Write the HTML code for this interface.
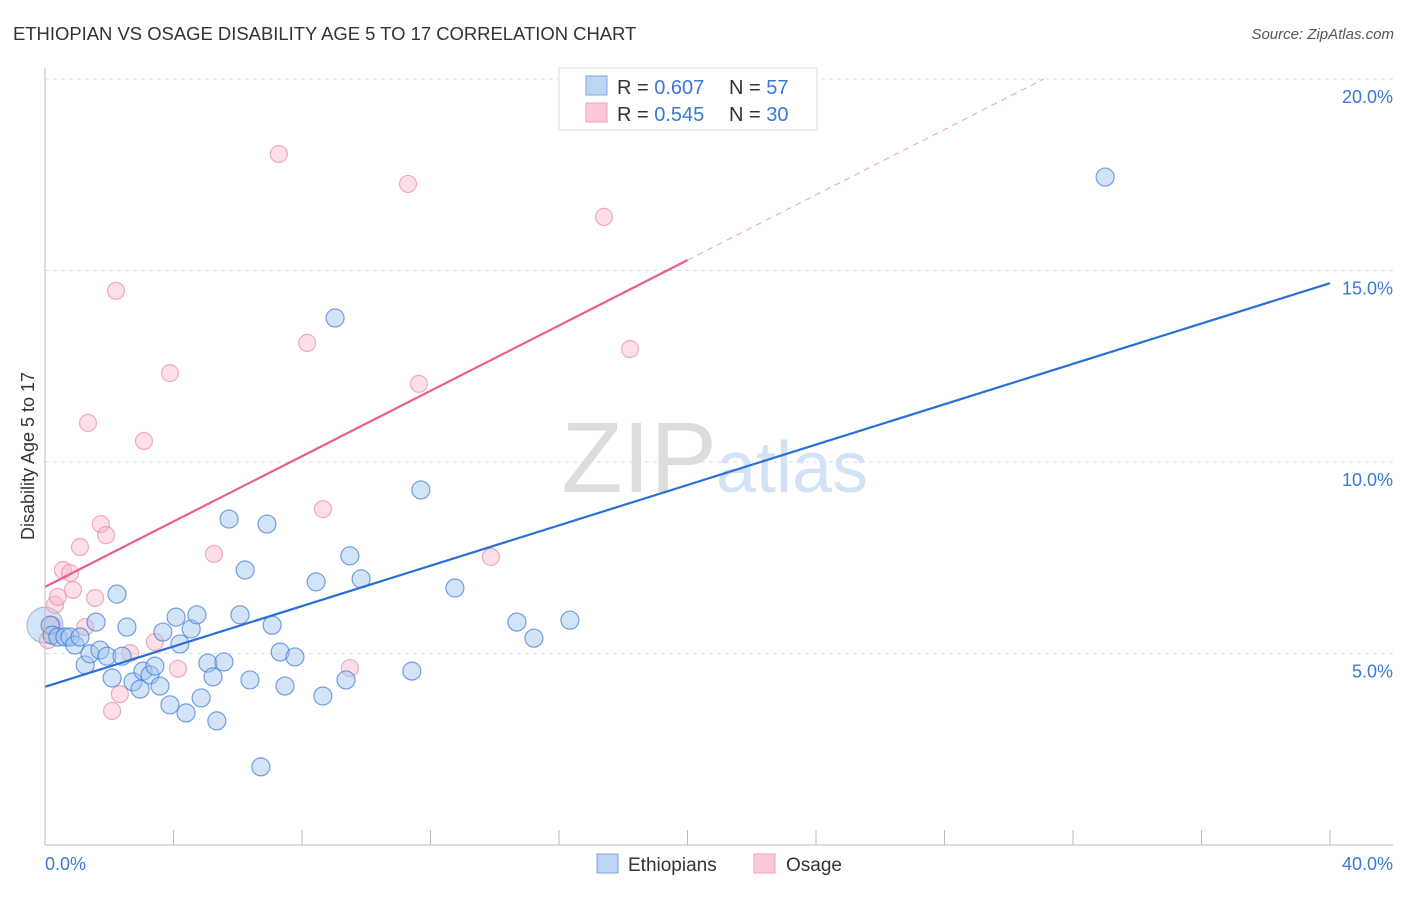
<!DOCTYPE html>
<html><head><meta charset="utf-8"><style>
body{margin:0;background:#fff;font-family:"Liberation Sans",sans-serif;}
svg text{font-family:"Liberation Sans",sans-serif;}
</style></head><body>
<svg id="chart" width="1406" height="892">
<text x="13" y="40" font-size="18.45" fill="#333">ETHIOPIAN VS OSAGE DISABILITY AGE 5 TO 17 CORRELATION CHART</text>
<text x="1394" y="39" font-size="15" fill="#555" text-anchor="end" font-style="italic">Source: ZipAtlas.com</text>
<g id="grid"></g>
<text x="717" y="492" font-size="100" fill="#ddd" text-anchor="end" font-family="Liberation Serif,serif">ZIP</text>
<text x="716" y="492" font-size="72" fill="#d3e3f5">atlas</text>
<g id="marks"></g>
<line x1="45" y1="68" x2="45" y2="845" stroke="#bbb"/>
<line x1="45" y1="845" x2="1393" y2="845" stroke="#bbb"/>
<g id="ticks"></g>
<text x="45" y="870" font-size="18" fill="#3a78d8">0.0%</text>
<text x="1393" y="870" font-size="18" fill="#3a78d8" text-anchor="end">40.0%</text>
<text transform="translate(34,456) rotate(-90)" font-size="18" fill="#333" text-anchor="middle">Disability Age 5 to 17</text>
<g>
<rect x="559" y="68" width="258" height="62" fill="#fff" stroke="#ddd"/>
<rect x="586" y="76" width="21" height="19" fill="#bcd5f5" stroke="#7aa8e6"/>
<rect x="586" y="103" width="21" height="19" fill="#fbc9d7" stroke="#f0a0b8"/>
<text x="617" y="94" font-size="20" fill="#333">R = <tspan fill="#3a78d8">0.607</tspan></text>
<text x="729" y="94" font-size="20" fill="#333">N = <tspan fill="#3a78d8"> 57</tspan></text>
<text x="617" y="121" font-size="20" fill="#333">R = <tspan fill="#3a78d8">0.545</tspan></text>
<text x="729" y="121" font-size="20" fill="#333">N = <tspan fill="#3a78d8">30</tspan></text>
</g>
<g>
<rect x="597" y="854" width="21" height="19" fill="#bcd5f5" stroke="#7aa8e6"/>
<text x="628" y="871" font-size="19" fill="#333">Ethiopians</text>
<rect x="754" y="854" width="21" height="19" fill="#fbc9d7" stroke="#f0a0b8"/>
<text x="786" y="871" font-size="19" fill="#333">Osage</text>
</g>
</svg>
<script>
const blueX=[0.16,0.22,0.40,0.62,0.78,0.93,1.09,1.25,1.40,1.59,1.71,1.93,2.09,2.24,2.40,2.55,2.74,2.96,3.05,3.27,3.42,3.58,3.67,3.89,4.08,4.20,4.39,4.55,4.73,4.86,5.07,5.23,5.35,5.57,5.73,6.07,6.23,6.38,6.72,6.91,7.07,7.32,7.47,7.78,8.44,8.65,9.03,9.37,9.49,9.84,11.42,11.70,12.76,14.69,15.22,16.34,33.00];
const blueY=[5.74,5.48,5.43,5.43,5.43,5.22,5.43,4.70,4.99,5.82,5.09,4.93,4.36,6.55,4.93,5.69,4.26,4.07,4.54,4.44,4.67,4.15,5.56,3.66,5.95,5.25,3.45,5.64,6.01,3.84,4.75,4.39,3.24,4.78,8.51,6.01,7.18,4.31,2.04,8.38,5.74,5.04,4.15,4.91,6.87,3.89,13.76,4.31,7.55,6.95,4.54,9.27,6.71,5.82,5.40,5.87,17.44];
const pinkX=[0.09,0.22,0.31,0.40,0.56,0.78,0.87,1.09,1.25,1.34,1.56,1.74,1.90,2.09,2.21,2.33,2.65,3.08,3.42,3.89,4.14,5.26,7.28,8.16,8.65,9.49,11.30,11.64,13.88,17.40,18.21];
const pinkY=[5.35,5.74,6.27,6.48,7.18,7.10,6.66,7.78,5.69,11.02,6.45,8.38,8.09,3.50,14.47,3.94,5.01,10.55,5.30,12.32,4.60,7.60,18.04,13.11,8.77,4.62,17.26,12.04,7.52,16.40,12.95];
const blueTrend=[4.13,14.67];
const pinkTrend=[6.74,0.4265];
const yTicks=[5,10,15,20];
const xTickVals=[0,4,8,12,16,20,24,28,32,36,40];
const NS='http://www.w3.org/2000/svg';
const sx=v=>45+v/40*1285;
const sy=v=>845-v/5*191.5;
function mk(tag,attrs,parent){const e=document.createElementNS(NS,tag);for(const k in attrs)e.setAttribute(k,attrs[k]);parent.appendChild(e);return e;}
const grid=document.getElementById('grid'),marks=document.getElementById('marks'),ticks=document.getElementById('ticks');
yTicks.forEach(t=>{
 const l=mk('line',{x1:45,x2:1393,y1:sy(t),y2:sy(t),stroke:'#ddd','stroke-dasharray':'4,4'},grid);
 
 
 const tx=mk('text',{x:1393,y:sy(t)+24,'font-size':18,fill:'#3a78d8','text-anchor':'end'},grid);
 tx.textContent=t.toFixed(1)+'%';
 
 
});
xTickVals.forEach(t=>{
 const l=mk('line',{x1:sx(t),x2:sx(t),y1:830,y2:845,stroke:'#bbb'},ticks);
 
 
});
const big=mk('circle',{cx:sx(0),cy:sy(5.74),r:18,fill:'rgba(160,196,240,0.45)',stroke:'rgba(91,143,217,0.6)'},marks);


pinkX.forEach((x,i)=>{
 const c=mk('circle',{cx:sx(x),cy:sy(pinkY[i]),r:8.5,fill:'rgba(248,185,205,0.45)',stroke:'rgba(232,140,170,0.7)','stroke-width':1.2},marks);
 
 
});
blueX.forEach((x,i)=>{
 const c=mk('circle',{cx:sx(x),cy:sy(blueY[i]),r:9,fill:'rgba(160,196,240,0.45)',stroke:'rgba(70,130,215,0.75)','stroke-width':1.2},marks);
 
 
});
const bl=mk('line',{x1:sx(0),y1:sy(blueTrend[0]),x2:sx(40),y2:sy(blueTrend[1]),stroke:'#2a6fd6','stroke-width':2.2},marks);


const pe=20;
const pl=mk('line',{x1:sx(0),y1:sy(pinkTrend[0]),x2:sx(pe),y2:sy(pinkTrend[0]+pinkTrend[1]*pe),stroke:'#e8608a','stroke-width':2.2},marks);


const xEnd=(20-pinkTrend[0])/pinkTrend[1];
const pd=mk('line',{x1:sx(pe),y1:sy(pinkTrend[0]+pinkTrend[1]*pe),x2:sx(xEnd),y2:sy(20),stroke:'#eaa0b8','stroke-width':1,'stroke-dasharray':'6,5'},marks);


</script>
</body></html>
